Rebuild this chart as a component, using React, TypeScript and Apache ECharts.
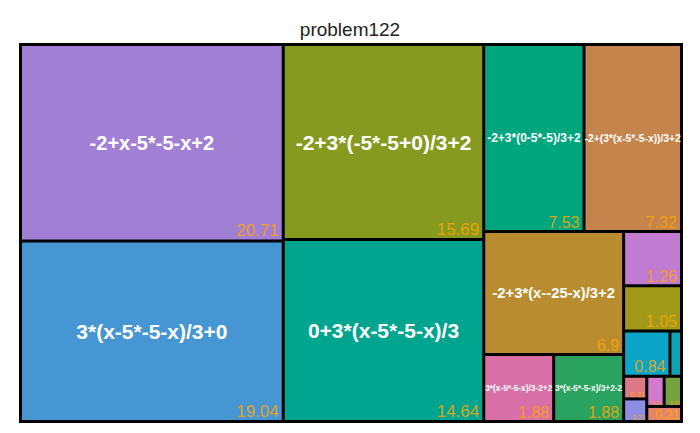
import React, { useEffect, useRef } from 'react';
import * as echarts from 'echarts';

const TITLE = 'problem122';

const names = [
  '-2+x-5*-5-x+2',
  '3*(x-5*-5-x)/3+0',
  '-2+3*(-5*-5+0)/3+2',
  '0+3*(x-5*-5-x)/3',
  '-2+3*(0-5*-5)/3+2',
  '-2+(3*(x-5*-5-x))/3+2',
  '-2+3*(x--25-x)/3+2',
  '3*(x-5*-5-x)/3-2+2',
  '3*(x-5*-5-x)/3+2-2',
  'expr10',
  'expr11',
  'expr12',
  'expr13',
  'expr14',
  'expr15',
  'expr16',
  'expr17',
  'expr18',
];

const values = [20.71, 19.04, 15.69, 14.64, 7.53, 7.32, 6.9, 1.88, 1.88, 1.26, 1.05, 0.84, 0.21, 0.21, 0.21, 0.21, 0.21, 0.21];

// grouping of leaves (by index) into nested blocks
const topLeaves = [0, 1, 2, 3, 4, 5];
const groupG = [6, 7, 8];
const groupHLeaves = [9, 10];
const groupI = [11, 12];
const groupJ = [13, 14, 15, 16, 17];

// styles (kept apart from the data)
const colors = [
  '#A07FD4', '#4596D3', '#869A20', '#00A590', '#00A67D', '#C4844B',
  '#B98D2F', '#D96FA7', '#29A35F', '#C17BD0', '#A0991A', '#0AA5C7',
  '#0BA4B5', '#DB7A86', '#8B8EE2', '#D27ACB', '#73A23F', '#E3866B',
];
const nameSizes = [20, 21, 21, 21, 12, 10.3, 14.8, 8.3, 8.3, 0, 0, 0, 0, 0, 0, 0, 0, 0];
const valueSizes = [17, 17, 17, 17, 16, 16, 16, 16, 16, 16, 16, 16, 0, 7.7, 6.7, 5.7, 5, 12.8];

const FONT = '"Liberation Sans", Arial, Helvetica, sans-serif';
const ORANGE = 'rgba(255,165,0,0.85)';
const BW = 1.5;

function buildTree(mode: 'name' | 'value') {
  const leaf = (i: number) => {
    if (mode === 'name') {
      return {
        name: names[i],
        value: values[i],
        itemStyle: { color: colors[i], borderColor: '#000', borderWidth: BW, gapWidth: 0 },
        label: {
          show: nameSizes[i] > 0,
          position: 'inside',
          formatter: '{b}',
          color: '#fff',
          fontWeight: 'bold',
          fontFamily: FONT,
          fontSize: nameSizes[i] || 10,
          lineHeight: nameSizes[i] || 10,
          padding: 0,
          overflow: 'none',
        },
      };
    }
    const fs = valueSizes[i] || 10;
    const small = i >= 12;
    return {
      name: names[i],
      value: values[i],
      itemStyle: { color: 'rgba(0,0,0,0)', borderColor: 'rgba(0,0,0,0)', borderWidth: BW, gapWidth: 0 },
      label: {
        show: valueSizes[i] > 0,
        position: 'insideBottomRight',
        distance: 0,
        formatter: (p: any) => String(p.value),
        color: small ? '#FFA500' : ORANGE,
        fontWeight: 'normal',
        fontFamily: FONT,
        fontSize: fs,
        lineHeight: small ? fs * 0.85 : fs,
        padding: small ? 0 : [0, 3, 0, 0],
        overflow: 'none',
      },
    };
  };
  const group = (name: string, children: any[]) => ({
    name,
    children,
    itemStyle: {
      color: 'rgba(0,0,0,0)',
      borderColor: mode === 'name' ? '#000' : 'rgba(0,0,0,0)',
      borderWidth: 0,
      gapWidth: 0,
    },
  });
  return [
    ...topLeaves.map(leaf),
    group('G', groupG.map(leaf)),
    group('H', [
      ...groupHLeaves.map(leaf),
      group('I', groupI.map(leaf)),
      group('J', groupJ.map(leaf)),
    ]),
  ];
}

function makeSeries(mode: 'name' | 'value') {
  return {
    type: 'treemap',
    left: 19,
    top: 43,
    width: 664,
    height: 380,
    sort: false,
    squareRatio: 1,
    roam: false,
    nodeClick: false,
    silent: mode === 'value',
    visibleMin: 0,
    breadcrumb: { show: false },
    upperLabel: { show: false },
    itemStyle: {
      borderColor: mode === 'name' ? '#000' : 'rgba(0,0,0,0)',
      borderWidth: 0,
      gapWidth: 0,
    },
    levels: [
      {
        itemStyle: {
          borderColor: mode === 'name' ? '#000' : 'rgba(0,0,0,0)',
          borderWidth: BW,
          gapWidth: 0,
        },
      },
    ],
    data: buildTree(mode),
  };
}

export default function App() {
  const ref = useRef<HTMLDivElement>(null);
  useEffect(() => {
    document.body.style.margin = '0';
    if (!ref.current) return;
    const chart = echarts.init(ref.current, undefined, { renderer: 'svg' });
    chart.setOption({
      animation: false,
      backgroundColor: '#fff',
      title: {
        text: TITLE,
        left: 'center',
        top: 15,
        textStyle: { fontSize: 19, fontWeight: 'normal', color: '#222', fontFamily: FONT },
      },
      tooltip: { show: false },
      series: [makeSeries('name'), makeSeries('value')],
    });
    return () => chart.dispose();
  }, []);
  return <div ref={ref} style={{ width: 700, height: 433 }} />;
}
